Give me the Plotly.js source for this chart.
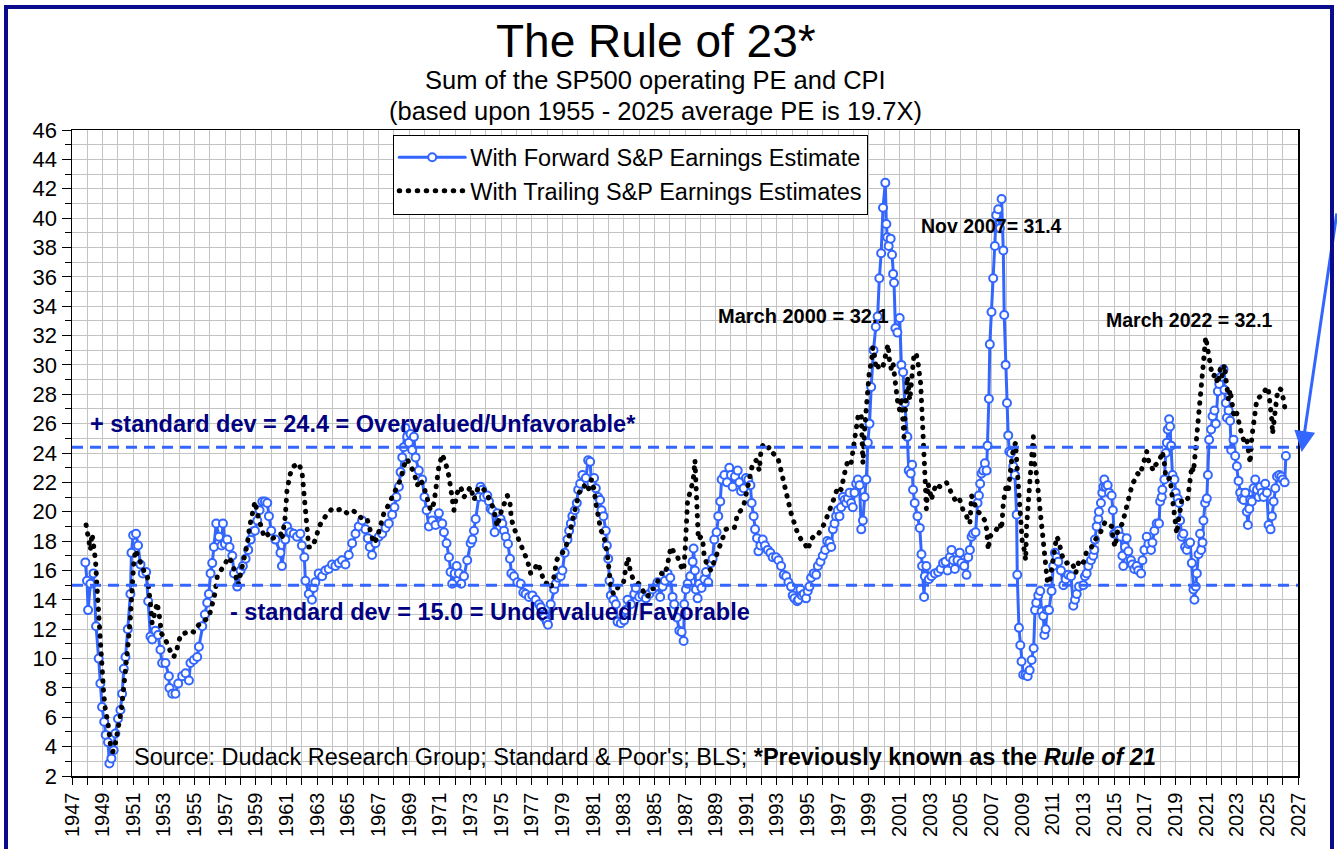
<!DOCTYPE html>
<html>
<head>
<meta charset="utf-8">
<script src="https://cdn.plot.ly/plotly-3.0.1.min.js"></script>
<style>
  html, body { margin:0; padding:0; background:#fff; }
  #wrap { position:relative; width:1337px; height:849px; overflow:hidden; }
  #chart { position:absolute; left:0; top:0; width:1337px; height:849px; }
  #frame { position:absolute; left:4px; top:5px; width:1330px; height:900px; box-sizing:border-box;
           border:4px solid #0a0a8c; pointer-events:none; }
  #chart path.js-line { stroke-linecap: round; stroke-linejoin: round; }
</style>
</head>
<body>
<div id="wrap"><div id="chart"></div><div id="frame"></div></div>
<script>
// ---------- DATA ----------
const fwdYear = [
 1947.87,1947.98,1948.05,1948.2,1948.4,1948.57,1948.74,1948.85,1948.96,1949.1,
 1949.2,1949.35,1949.44,1949.57,1949.72,1949.83,1950.0,1950.16,1950.27,1950.38,
 1950.49,1950.64,1950.81,1950.88,1950.99,1951.18,1951.31,1951.47,1951.62,1951.84,
 1951.97,1952.12,1952.23,1952.45,1952.62,1952.77,1952.88,1953.1,1953.32,1953.36,
 1953.54,1953.75,1953.93,1954.19,1954.41,1954.63,1954.73,1954.95,1955.17,1955.28,
 1955.5,1955.67,1955.82,1955.93,1956.04,1956.15,1956.26,1956.41,1956.59,1956.76,
 1956.85,1956.98,1957.13,1957.28,1957.46,1957.57,1957.78,1958.0,1958.15,1958.33,
 1958.5,1958.66,1958.76,1958.94,1959.09,1959.24,1959.42,1959.59,1959.74,1959.85,
 1960.0,1960.27,1960.6,1960.7,1960.92,1961.03,1961.25,1961.47,1961.68,1961.9,
 1962.0,1962.16,1962.23,1962.45,1962.66,1962.77,1962.88,1963.1,1963.32,1963.53,
 1963.75,1963.97,1964.19,1964.41,1964.62,1964.84,1965.06,1965.28,1965.5,1965.71,
 1965.93,1966.15,1966.3,1966.43,1966.58,1966.8,1967.02,1967.24,1967.46,1967.67,
 1967.89,1968.04,1968.17,1968.33,1968.44,1968.55,1968.65,1968.76,1968.87,1968.98,
 1969.09,1969.2,1969.31,1969.42,1969.63,1969.85,1970.0,1970.14,1970.29,1970.5,
 1970.72,1970.94,1971.16,1971.27,1971.44,1971.6,1971.7,1971.81,1971.97,1972.1,
 1972.25,1972.4,1972.58,1972.79,1973.01,1973.12,1973.23,1973.34,1973.55,1973.66,
 1973.77,1973.88,1974.1,1974.21,1974.32,1974.43,1974.58,1974.75,1974.97,1975.08,
 1975.19,1975.3,1975.45,1975.58,1975.67,1975.84,1976.06,1976.28,1976.45,1976.6,
 1976.82,1977.04,1977.26,1977.48,1977.59,1977.8,1977.98,1978.06,1978.24,1978.46,
 1978.57,1978.72,1978.89,1979.0,1979.15,1979.33,1979.44,1979.55,1979.65,1979.81,
 1979.94,1980.03,1980.16,1980.31,1980.53,1980.68,1980.81,1980.9,1981.07,1981.18,
 1981.33,1981.46,1981.55,1981.68,1981.83,1981.9,1981.99,1982.07,1982.16,1982.33,
 1982.49,1982.6,1982.81,1983.03,1983.14,1983.25,1983.47,1983.69,1983.79,1984.01,
 1984.23,1984.45,1984.67,1984.88,1985.1,1985.21,1985.38,1985.54,1985.69,1985.86,
 1986.04,1986.19,1986.3,1986.47,1986.63,1986.78,1986.91,1986.95,1987.06,1987.17,
 1987.34,1987.5,1987.56,1987.65,1987.71,1987.82,1987.93,1988.08,1988.26,1988.37,
 1988.52,1988.69,1988.8,1988.91,1989.06,1989.17,1989.3,1989.39,1989.57,1989.74,
 1989.89,1990.0,1990.11,1990.26,1990.44,1990.55,1990.66,1990.83,1990.98,1991.13,
 1991.27,1991.35,1991.48,1991.57,1991.7,1991.79,1991.92,1992.07,1992.22,1992.4,
 1992.57,1992.72,1992.94,1993.1,1993.27,1993.44,1993.6,1993.75,1993.92,1994.03,
 1994.14,1994.32,1994.4,1994.53,1994.62,1994.75,1994.9,1995.01,1995.12,1995.23,
 1995.4,1995.56,1995.67,1995.84,1995.99,1996.15,1996.28,1996.43,1996.54,1996.65,
 1996.76,1996.86,1996.97,1997.08,1997.19,1997.3,1997.41,1997.52,1997.63,1997.74,
 1997.84,1997.95,1998.06,1998.17,1998.28,1998.39,1998.5,1998.61,1998.72,1998.83,
 1998.93,1999.04,1999.15,1999.3,1999.45,1999.57,1999.68,1999.8,1999.92,2000.07,
 2000.14,2000.2,2000.29,2000.42,2000.51,2000.58,2000.64,2000.73,2000.86,2001.01,
 2001.12,2001.23,2001.34,2001.51,2001.6,2001.73,2001.82,2001.88,2001.99,2002.17,
 2002.32,2002.43,2002.47,2002.6,2002.65,2002.75,2002.91,2003.08,2003.3,2003.52,
 2003.69,2003.84,2004.0,2004.13,2004.28,2004.39,2004.5,2004.61,2004.78,2004.93,
 2005.04,2005.22,2005.37,2005.48,2005.59,2005.7,2005.8,2005.96,2006.09,2006.18,
 2006.26,2006.35,2006.46,2006.57,2006.68,2006.74,2006.83,2006.89,2007.0,2007.11,
 2007.22,2007.31,2007.44,2007.55,2007.66,2007.77,2007.83,2007.92,2008.01,2008.09,
 2008.16,2008.27,2008.42,2008.53,2008.64,2008.68,2008.79,2008.88,2008.96,2009.07,
 2009.23,2009.36,2009.49,2009.62,2009.75,2009.84,2009.92,2010.05,2010.18,2010.27,
 2010.38,2010.45,2010.53,2010.62,2010.75,2010.92,2011.03,2011.14,2011.25,2011.36,
 2011.53,2011.69,2011.84,2012.01,2012.19,2012.34,2012.45,2012.56,2012.71,2012.99,
 2013.1,2013.21,2013.32,2013.49,2013.64,2013.71,2013.75,2013.86,2013.97,2014.01,
 2014.14,2014.23,2014.3,2014.36,2014.45,2014.58,2014.67,2014.84,2014.92,2015.0,
 2015.06,2015.28,2015.45,2015.54,2015.6,2015.71,2015.82,2015.93,2016.1,2016.19,
 2016.32,2016.47,2016.58,2016.76,2016.85,2016.98,2017.13,2017.24,2017.41,2017.5,
 2017.63,2017.78,2017.93,2018.0,2018.11,2018.15,2018.28,2018.37,2018.44,2018.5,
 2018.59,2018.65,2018.72,2018.81,2018.94,2019.02,2019.15,2019.24,2019.31,2019.42,
 2019.52,2019.63,2019.74,2019.85,2019.96,2020.07,2020.18,2020.24,2020.33,2020.4,
 2020.51,2020.61,2020.68,2020.77,2020.83,2020.94,2021.05,2021.12,2021.2,2021.33,
 2021.42,2021.55,2021.64,2021.77,2021.86,2021.99,2022.14,2022.2,2022.29,2022.36,
 2022.47,2022.57,2022.64,2022.79,2022.9,2023.01,2023.12,2023.23,2023.34,2023.45,
 2023.56,2023.66,2023.73,2023.82,2023.88,2023.99,2024.1,2024.21,2024.32,2024.43,
 2024.54,2024.64,2024.75,2024.86,2024.97,2025.08,2025.21,2025.3,2025.41,2025.52,
 2025.63,2025.78,2025.91,2026.0,2026.13,2026.21
];
const fwdPE = [
 16.55,15.3,13.3,15.1,15.8,12.2,10.0,8.3,6.7,5.7,
 4.8,4.3,2.85,3.2,3.75,4.9,5.9,6.5,7.6,9.3,
 10.1,12.0,14.4,17.2,18.4,18.5,17.7,16.4,15.8,15.9,
 13.9,11.5,11.3,11.9,11.6,10.6,9.7,9.7,8.8,8.0,
 7.6,7.6,8.3,8.8,9.0,8.5,9.7,9.9,10.1,10.8,
 12.2,13.0,13.8,14.4,15.8,16.5,17.6,19.2,18.3,17.7,
 19.2,17.8,18.1,17.6,17.0,15.8,14.9,16.0,16.3,16.8,
 17.4,18.1,18.6,18.7,19.4,20.1,20.7,20.7,20.6,19.7,
 18.7,18.1,17.2,16.3,18.1,19.0,18.6,18.5,18.3,18.5,
 17.7,16.9,15.3,14.4,14.0,14.8,15.2,15.8,15.6,16.0,
 16.1,16.4,16.3,16.5,16.7,16.4,17.05,17.85,18.5,19.0,
 19.4,18.8,18.2,17.6,17.05,17.85,18.3,18.5,18.9,19.2,
 19.8,20.3,21.0,21.7,22.7,23.7,24.4,25.7,25.1,24.7,
 25.3,24.2,25.1,23.7,22.8,22.2,21.0,20.1,19.0,19.4,
 19.1,19.9,19.2,18.6,17.85,16.9,15.9,15.1,15.8,16.3,
 15.8,15.1,15.6,16.7,17.85,18.1,18.7,19.5,21.0,21.7,
 21.5,21.0,21.1,20.7,20.2,20.1,18.6,19.9,19.5,19.2,
 18.7,18.3,17.8,16.8,15.8,15.6,15.2,15.1,14.5,14.4,
 14.2,14.3,14.0,13.7,13.5,12.8,12.5,12.3,13.7,14.7,
 15.1,15.5,15.6,16.0,17.2,18.1,18.7,19.2,19.7,20.1,
 20.6,21.5,21.9,22.5,22.3,23.5,23.4,21.9,22.3,21.6,
 21.0,20.8,20.1,19.7,18.7,17.7,16.8,15.3,14.3,14.0,
 13.7,12.5,12.4,12.6,13.3,14.0,13.7,14.4,14.8,14.2,
 14.3,14.1,14.4,14.7,14.9,15.2,14.2,14.9,15.3,15.8,
 15.5,14.2,13.7,12.8,11.9,11.8,11.2,13.7,14.7,15.1,
 15.6,16.6,17.5,16.0,14.7,14.1,15.1,14.8,15.4,15.9,
 15.2,16.5,16.8,18.1,18.6,19.7,20.7,22.2,22.5,22.0,
 23.0,22.5,21.7,22.4,22.8,22.0,21.4,21.6,22.3,22.2,
 21.8,20.6,19.7,18.8,18.2,17.3,17.7,18.1,17.7,17.4,
 17.2,16.9,16.9,16.7,16.3,15.7,15.6,15.2,14.9,14.3,
 14.1,13.9,14.0,14.7,14.3,14.4,14.1,14.6,14.9,15.5,
 15.8,15.7,16.3,16.6,17.0,17.4,18.0,17.9,17.6,18.8,
 19.2,19.7,20.1,19.7,20.3,21.0,20.8,20.6,20.9,21.3,
 20.6,20.3,21.3,21.9,22.2,21.8,18.8,19.4,21.0,22.2,
 24.7,26.0,28.5,31.0,32.6,33.3,35.9,37.6,40.7,42.4,
 39.6,38.7,38.1,38.6,37.5,36.2,35.6,32.5,32.2,33.2,
 30.0,29.5,27.4,25.1,22.8,22.6,23.2,21.5,20.6,19.7,
 18.9,17.1,16.3,14.2,15.6,16.3,15.4,15.6,15.8,15.9,
 16.1,16.5,16.6,16.0,16.9,17.4,16.7,16.1,16.7,17.2,
 16.5,16.3,15.7,16.9,17.4,18.3,18.5,18.6,20.6,21.1,
 21.9,22.6,22.8,23.3,22.8,24.5,27.7,31.4,33.6,35.9,
 38.1,40.2,40.6,39.3,41.3,37.8,33.4,30.0,27.4,25.2,
 24.1,24.0,23.1,22.5,19.8,15.7,12.1,10.9,9.8,8.9,
 8.9,8.8,9.2,9.9,10.7,13.3,13.8,14.3,14.6,13.2,
 12.9,11.6,12.0,13.3,13.3,14.6,16.3,17.2,16.9,16.6,
 16.0,15.0,15.4,15.7,15.6,13.6,14.0,14.4,14.9,15.0,
 15.6,15.8,16.3,16.7,17.0,17.4,18.1,19.0,19.5,20.0,
 20.6,21.3,21.7,22.2,21.7,21.8,21.3,21.1,20.1,18.5,
 18.5,18.7,18.3,17.0,16.3,17.6,18.2,17.3,16.7,16.4,
 16.1,16.3,16.0,15.8,16.7,17.4,18.3,17.8,17.4,17.9,
 18.7,19.2,19.2,20.7,21.0,21.5,22.2,24.0,24.7,25.6,
 26.3,25.8,24.5,22.5,22.2,21.3,20.9,20.6,19.4,18.3,
 18.5,17.6,17.4,17.8,17.9,16.5,14.7,14.0,14.9,15.8,
 17.1,18.5,17.4,17.9,19.4,20.6,20.9,22.5,24.9,25.6,
 26.5,26.9,26.0,28.2,28.7,29.2,29.7,28.3,27.4,26.4,
 26.9,26.2,24.2,24.9,23.8,23.1,22.1,21.3,20.9,20.8,
 21.3,20.0,19.1,20.2,20.8,20.7,21.6,22.2,21.5,21.0,
 21.7,21.3,21.0,21.9,21.3,19.1,18.8,19.7,20.7,21.6,
 22.4,22.5,22.4,22.2,22.0,23.8
];

const trlYear = [
 1947.92,1948.09,1948.2,1948.31,1948.42,1948.53,1948.63,1948.74,1948.85,1948.96,
 1949.07,1949.18,1949.35,1949.5,1949.66,1949.83,1950.05,1950.22,1950.38,1950.53,
 1950.66,1950.81,1950.92,1951.03,1951.14,1951.31,1951.47,1951.68,1951.9,1952.01,
 1952.12,1952.23,1952.34,1952.56,1952.71,1952.84,1953.06,1953.32,1953.64,1953.86,
 1954.08,1954.41,1954.73,1954.95,1955.17,1955.39,1955.71,1955.93,1956.15,1956.32,
 1956.48,1956.7,1956.91,1957.07,1957.24,1957.46,1957.68,1957.85,1958.0,1958.11,
 1958.29,1958.44,1958.59,1958.76,1958.94,1959.09,1959.31,1959.53,1959.74,1959.96,
 1960.29,1960.62,1960.7,1960.92,1961.03,1961.25,1961.47,1961.79,1962.01,1962.12,
 1962.23,1962.34,1962.45,1962.66,1962.88,1963.1,1963.32,1963.64,1963.97,1964.3,
 1964.62,1964.95,1965.28,1965.6,1965.93,1966.26,1966.48,1966.69,1966.91,1967.13,
 1967.35,1967.57,1967.78,1968.11,1968.44,1968.65,1968.87,1969.09,1969.31,1969.53,
 1969.74,1969.96,1970.18,1970.4,1970.62,1970.72,1970.94,1971.16,1971.38,1971.6,
 1971.81,1971.92,1972.14,1972.36,1972.58,1972.79,1973.01,1973.23,1973.45,1973.66,
 1973.88,1974.1,1974.32,1974.53,1974.64,1974.75,1974.97,1975.19,1975.41,1975.58,
 1975.67,1975.84,1976.06,1976.28,1976.5,1976.71,1976.93,1977.15,1977.37,1977.59,
 1977.8,1978.02,1978.24,1978.46,1978.63,1978.78,1979.0,1979.22,1979.44,1979.65,
 1979.87,1980.09,1980.31,1980.42,1980.59,1980.81,1980.9,1981.07,1981.18,1981.29,
 1981.4,1981.51,1981.68,1981.83,1981.94,1982.05,1982.16,1982.33,1982.49,1982.64,
 1982.81,1982.99,1983.14,1983.29,1983.42,1983.58,1983.79,1984.01,1984.16,1984.34,
 1984.56,1984.77,1984.99,1985.17,1985.32,1985.47,1985.65,1985.82,1985.97,1986.08,
 1986.3,1986.52,1986.73,1986.91,1987.0,1987.06,1987.17,1987.39,1987.56,1987.65,
 1987.71,1987.78,1987.87,1988.04,1988.15,1988.26,1988.48,1988.69,1988.87,1989.02,
 1989.13,1989.3,1989.46,1989.67,1989.89,1990.22,1990.44,1990.66,1990.87,1991.09,
 1991.27,1991.42,1991.64,1991.85,1991.96,1992.07,1992.29,1992.51,1992.72,1993.05,
 1993.27,1993.49,1993.71,1993.92,1994.14,1994.36,1994.58,1994.79,1995.01,1995.23,
 1995.45,1995.67,1995.88,1996.1,1996.32,1996.54,1996.76,1996.97,1997.19,1997.41,
 1997.63,1997.84,1998.02,1998.17,1998.32,1998.5,1998.61,1998.72,1998.83,1998.93,
 1999.04,1999.15,1999.26,1999.37,1999.48,1999.59,1999.7,1999.92,2000.14,2000.25,
 2000.36,2000.47,2000.58,2000.73,2000.86,2001.01,2001.12,2001.23,2001.29,2001.38,
 2001.51,2001.67,2001.77,2001.95,2002.1,2002.21,2002.38,2002.47,2002.54,2002.6,
 2002.69,2002.75,2002.86,2002.97,2003.08,2003.19,2003.41,2003.63,2003.84,2004.06,
 2004.28,2004.5,2004.72,2004.93,2005.15,2005.37,2005.59,2005.7,2005.91,2006.09,
 2006.24,2006.57,2006.68,2006.79,2006.89,2007.11,2007.33,2007.55,2007.66,2007.77,
 2007.87,2007.98,2008.09,2008.2,2008.31,2008.42,2008.57,2008.64,2008.7,2008.79,
 2008.85,2008.92,2009.01,2009.14,2009.23,2009.29,2009.4,2009.51,2009.62,2009.73,
 2009.79,2009.88,2010.01,2010.16,2010.27,2010.38,2010.45,2010.53,2010.66,2010.82,
 2010.92,2011.03,2011.14,2011.25,2011.36,2011.53,2011.69,2011.9,2012.12,2012.34,
 2012.49,2012.67,2012.88,2013.05,2013.21,2013.36,2013.53,2013.71,2013.86,2014.08,
 2014.23,2014.41,2014.62,2014.84,2014.95,2015.06,2015.23,2015.39,2015.54,2015.71,
 2015.89,2016.04,2016.19,2016.37,2016.54,2016.69,2016.85,2017.02,2017.13,2017.24,
 2017.46,2017.56,2017.72,2017.89,2018.07,2018.15,2018.28,2018.37,2018.5,2018.65,
 2018.76,2018.87,2018.98,2019.09,2019.2,2019.31,2019.42,2019.52,2019.63,2019.81,
 2019.96,2020.07,2020.18,2020.29,2020.4,2020.51,2020.55,2020.61,2020.72,2020.83,
 2020.94,2020.98,2021.12,2021.2,2021.33,2021.49,2021.59,2021.77,2021.92,2022.03,
 2022.2,2022.29,2022.36,2022.47,2022.57,2022.68,2022.79,2022.9,2023.01,2023.12,
 2023.23,2023.34,2023.45,2023.56,2023.66,2023.77,2023.88,2023.99,2024.1,2024.21,
 2024.32,2024.47,2024.64,2024.82,2024.97,2025.08,2025.19,2025.3,2025.34,2025.47,
 2025.63,2025.78,2025.91,2026.06,2026.21
];
const trlPE = [
 19.1,18.1,17.4,18.5,17.8,16.7,14.9,12.8,11.0,9.2,
 7.6,6.5,5.6,4.2,3.65,4.2,5.4,6.5,8.1,9.4,
 11.0,12.8,14.9,16.5,17.4,16.9,16.5,16.0,15.8,14.9,
 13.7,12.4,13.0,13.8,12.8,11.7,11.4,10.7,10.1,10.7,
 11.6,11.8,11.9,11.8,12.2,12.4,12.7,12.8,13.7,14.4,
 15.6,16.0,16.3,16.7,16.9,16.5,15.6,15.0,15.8,16.3,
 16.9,17.8,19.0,19.9,20.7,19.9,19.0,18.3,18.5,18.1,
 18.3,18.5,18.1,19.7,21.5,22.6,23.1,23.3,22.7,21.5,
 20.1,18.5,17.6,17.6,18.1,18.9,19.4,19.8,20.2,20.1,
 20.2,19.9,20.1,19.9,19.5,19.5,18.5,17.85,18.2,19.0,
 19.9,20.3,20.8,21.5,22.2,23.1,23.6,23.1,22.7,21.8,
 22.2,21.7,21.0,20.1,20.6,21.5,23.1,23.9,23.3,22.4,
 21.0,20.1,21.3,21.7,21.0,21.4,21.7,20.8,21.5,21.7,
 21.5,21.1,20.7,20.1,19.4,19.0,19.9,20.6,21.1,20.6,
 19.5,18.9,18.3,17.6,17.2,16.7,15.8,16.0,16.5,16.0,
 15.2,15.1,14.8,15.6,16.7,17.0,17.2,17.6,18.3,19.4,
 20.2,21.3,21.6,21.8,21.4,21.7,22.2,21.5,20.6,19.8,
 19.2,18.7,18.5,17.8,17.0,16.0,14.9,14.4,14.5,14.9,
 15.0,15.2,16.2,16.9,16.0,15.5,15.3,15.1,14.9,14.4,
 14.2,14.7,14.8,15.1,15.6,15.8,15.7,16.2,17.3,17.6,
 17.2,16.9,16.3,16.0,17.2,19.4,20.8,21.5,22.4,23.5,
 21.5,19.4,18.1,18.3,18.1,16.9,16.3,16.0,16.5,16.9,
 17.4,17.9,18.3,18.8,18.9,18.9,19.9,20.1,20.6,21.7,
 22.4,23.3,23.5,22.8,24.2,24.5,24.2,24.4,24.0,23.7,
 22.8,21.7,20.6,19.9,19.2,18.5,18.1,17.9,17.4,18.1,
 18.4,18.4,18.8,19.2,19.8,20.3,21.0,21.7,21.5,22.6,
 23.5,23.3,24.7,26.0,26.7,26.5,23.3,25.6,27.4,28.7,
 29.7,30.1,31.2,30.6,29.7,29.9,29.7,29.9,30.8,31.4,
 30.1,29.7,30.1,28.5,27.6,26.9,27.8,26.0,25.1,26.9,
 29.2,27.6,28.5,30.8,30.7,30.1,28.7,26.0,24.0,22.6,
 21.7,20.2,21.9,21.5,20.8,21.3,21.9,21.7,21.9,22.0,
 21.5,21.1,20.6,20.8,20.1,19.7,19.2,21.1,20.6,20.0,
 19.9,19.4,18.8,17.4,18.3,18.5,18.8,19.2,18.8,20.6,
 21.5,21.9,21.3,22.8,23.5,24.2,24.7,23.5,22.4,21.3,
 19.7,18.3,17.9,17.4,16.7,19.0,21.0,22.8,23.7,25.1,
 23.3,23.1,21.7,19.7,18.8,17.9,16.7,15.7,15.1,15.4,
 16.0,16.7,17.4,18.3,18.1,17.4,16.7,16.5,16.6,16.3,
 15.8,16.5,16.3,16.7,17.3,17.4,17.6,18.0,18.2,18.5,
 18.9,19.3,19.2,19.0,18.1,17.6,18.7,19.0,19.2,19.9,
 20.7,21.0,21.9,22.2,22.6,22.5,23.1,23.8,24.1,23.5,
 23.1,22.8,23.2,23.4,23.8,24.1,23.3,22.4,22.2,22.3,
 21.3,20.3,19.2,18.5,19.4,20.1,20.8,20.9,20.8,20.9,
 22.2,23.1,22.7,24.0,24.9,25.8,26.9,27.8,28.7,30.1,
 30.8,31.9,31.0,30.3,29.7,29.2,29.4,28.7,29.7,29.2,
 30.0,29.1,28.5,27.6,28.3,27.2,26.7,26.4,26.7,26.2,
 25.6,25.2,24.9,24.7,24.9,24.0,23.3,25.1,26.2,27.4,
 27.7,27.8,27.9,28.2,28.5,28.2,27.4,26.2,25.3,26.9,
 27.9,28.4,28.3,27.6,26.6
];

const xTickStart = 1947, xTickEnd = 2027;
const upperSD = 24.4, lowerSD = 15.0;
const seriesNames = ['With Forward S&P Earnings Estimate', 'With Trailing S&P Earnings Estimates'];

// ---------- CHART ----------
const FONT = "'Liberation Sans', Arial, Helvetica, sans-serif";
const BLUE = '#3366ff';
const NAVY = '#000080';
const GRID = '#c3c3c3';

const traces = [
  {
    x: fwdYear, y: fwdPE, name: seriesNames[0], type: 'scatter', mode: 'lines+markers',
    line: { color: BLUE, width: 3 },
    marker: { symbol: 'circle', size: 8, color: '#ffffff', line: { color: BLUE, width: 2 } }
  },
  {
    x: trlYear, y: trlPE, name: seriesNames[1], type: 'scatter', mode: 'lines',
    line: { color: '#000000', width: 5, dash: '0.5px,8.5px' }
  }
];

const layout = {
  width: 1337, height: 849,
  paper_bgcolor: '#ffffff', plot_bgcolor: '#ffffff',
  margin: { l: 72, r: 39, t: 130, b: 73, pad: 0 },
  font: { family: FONT, color: '#000' },
  showlegend: true,
  legend: {
    x: 0.262, y: 0.993, xanchor: 'left', yanchor: 'top',
    bgcolor: '#ffffff', bordercolor: '#000000', borderwidth: 1,
    font: { family: FONT, size: 23.5, color: '#000' },
    tracegroupgap: 0, itemwidth: 66
  },
  xaxis: {
    range: [xTickStart, xTickEnd], tick0: xTickStart, dtick: 2, tickformat: 'd',
    tickangle: -90, ticks: 'outside', ticklen: 7, tickcolor: '#000', tickwidth: 1,
    tickfont: { family: FONT, size: 20, color: '#000' },
    showgrid: true, gridcolor: GRID, gridwidth: 1,
    minor: { dtick: 1, tick0: xTickStart, showgrid: true, gridcolor: GRID, gridwidth: 1, ticks: 'outside', ticklen: 7, tickcolor: '#000' },
    showline: true, linecolor: '#000', linewidth: 1.5, mirror: true, zeroline: false,
    fixedrange: true
  },
  yaxis: {
    range: [2, 46], tick0: 2, dtick: 2,
    ticks: 'outside', ticklen: 9, tickcolor: '#000', tickwidth: 1,
    tickfont: { family: FONT, size: 22, color: '#000' },
    showgrid: true, gridcolor: GRID, gridwidth: 1,
    minor: { dtick: 1, tick0: 2, showgrid: true, gridcolor: GRID, gridwidth: 1, ticks: 'outside', ticklen: 6, tickcolor: '#000' },
    showline: true, linecolor: '#000', linewidth: 1.5, mirror: true, zeroline: false,
    fixedrange: true
  },
  shapes: [
    { type: 'line', xref: 'paper', yref: 'y', x0: 0, x1: 1, y0: upperSD, y1: upperSD,
      line: { color: BLUE, width: 3, dash: '11px,7px' }, layer: 'above' },
    { type: 'line', xref: 'paper', yref: 'y', x0: 0, x1: 1, y0: lowerSD, y1: lowerSD,
      line: { color: BLUE, width: 3, dash: '11px,7px' }, layer: 'above' }
  ],
  annotations: [
    { text: 'The Rule of 23*', xref: 'paper', yref: 'paper', x: 0.4763, y: 1.138, xanchor: 'center', yanchor: 'middle',
      showarrow: false, font: { family: FONT, size: 46, color: '#000' } },
    { text: 'Sum of the SP500 operating PE and CPI', xref: 'paper', yref: 'paper', x: 0.4763, y: 1.0775, xanchor: 'center', yanchor: 'middle',
      showarrow: false, font: { family: FONT, size: 25.5, color: '#000' } },
    { text: '(based upon 1955 - 2025 average PE is 19.7X)', xref: 'paper', yref: 'paper', x: 0.4763, y: 1.0295, xanchor: 'center', yanchor: 'middle',
      showarrow: false, font: { family: FONT, size: 25.5, color: '#000' } },
    { text: '<b>March 2000 = 32.1</b>', xref: 'x', yref: 'y', x: 1994.71, y: 33.33, xanchor: 'center', yanchor: 'middle',
      showarrow: false, font: { family: FONT, size: 20, color: '#000' } },
    { text: '<b>Nov 2007= 31.4</b>', xref: 'x', yref: 'y', x: 2007.0, y: 39.46, xanchor: 'center', yanchor: 'middle',
      showarrow: false, font: { family: FONT, size: 19.5, color: '#000' } },
    { text: '<b>March 2022 = 32.1</b>', xref: 'x', yref: 'y', x: 2019.94, y: 33.06, xanchor: 'center', yanchor: 'middle',
      showarrow: false, font: { family: FONT, size: 19.5, color: '#000' } },
    { text: '<b>+ standard dev = 24.4 = Overvalued/Unfavorable*</b>', xref: 'x', yref: 'y', x: 1948.05, y: 25.97, xanchor: 'left', yanchor: 'middle',
      showarrow: false, font: { family: FONT, size: 23.5, color: NAVY } },
    { text: '<b>- standard dev = 15.0 = Undervalued/Favorable</b>', xref: 'x', yref: 'y', x: 1957.2, y: 13.17, xanchor: 'left', yanchor: 'middle',
      showarrow: false, font: { family: FONT, size: 23.5, color: NAVY } },
    { text: "Source: Dudack Research Group; Standard &amp; Poor's; BLS; <b>*Previously known as the <i>Rule of 21</i></b>",
      xref: 'x', yref: 'y', x: 1950.9, y: 3.29, xanchor: 'left', yanchor: 'middle',
      showarrow: false, font: { family: FONT, size: 23.5, color: '#000' } },
    { text: '', xref: 'paper', yref: 'y', x: 1.003, y: 24.07, ax: 40, ay: -240, axref: 'pixel', ayref: 'pixel',
      showarrow: true, arrowhead: 2, arrowsize: 1.4, arrowwidth: 3, arrowcolor: BLUE }
  ]
};

Plotly.newPlot('chart', traces, layout, { staticPlot: true, displayModeBar: false });
</script>
</body>
</html>
